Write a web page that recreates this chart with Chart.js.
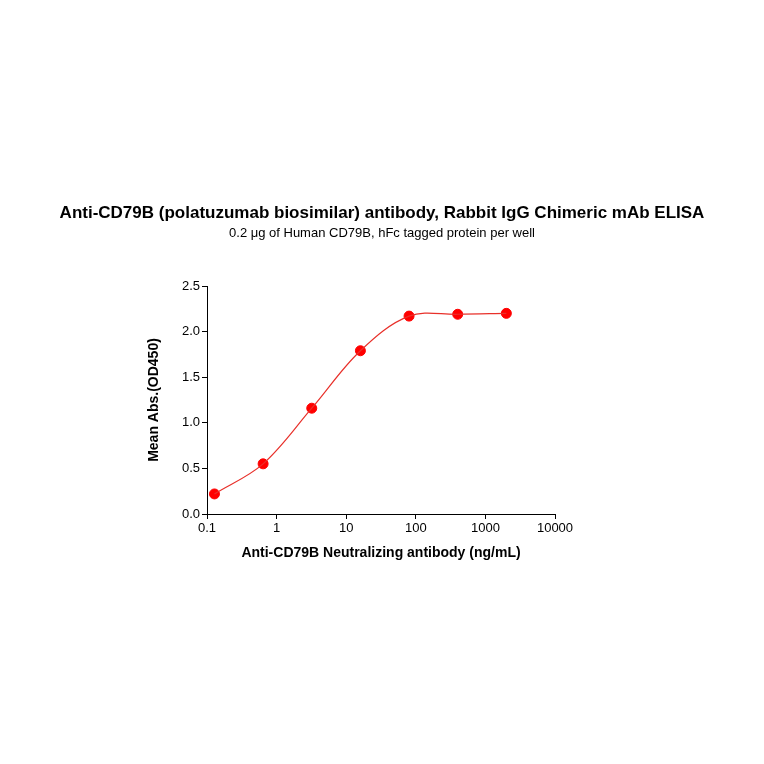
<!DOCTYPE html>
<html><head><script src="https://cdn.jsdelivr.net/npm/chart.js@4"></script>
<style>body{margin:0;background:#fff}#w{width:764px;height:764px}</style></head>
<body><div id="w"><canvas id="c"></canvas></div>
<script>
const concentrations=[0.128,0.64,3.2,16,80,400,2000];
const meanAbs=[0.22,0.55,1.16,1.79,2.17,2.19,2.20];
const xTicks=[0.1,1,10,100,1000,10000];
const yTicks=[0,0.5,1.0,1.5,2.0,2.5];
const pts=concentrations.map((x,i)=>({x,y:meanAbs[i]}));
const titles={id:'titles',afterDraw(ch){const c=ch.ctx;c.save();c.fillStyle='#000';c.textAlign='center';
c.font='bold 17px Arial, Liberation Sans';c.fillText('Anti-CD79B (polatuzumab biosimilar) antibody, Rabbit IgG Chimeric mAb ELISA',382,218);
c.font='13px Arial, Liberation Sans';c.fillText('0.2 \u03bcg of Human CD79B, hFc tagged protein per well',382,237);c.restore();}};
new Chart(document.getElementById('c'),{type:'scatter',
data:{datasets:[
{type:'line',data:pts,borderColor:'#e8302a',borderWidth:1.2,pointRadius:0,tension:0.35,fill:false},
{data:pts,backgroundColor:'#ff0000',borderColor:'#ff0000',pointRadius:5}]},
options:{responsive:true,maintainAspectRatio:false,animation:false,
layout:{padding:{left:146,right:209,top:286,bottom:202}},
plugins:{legend:{display:false},tooltip:{enabled:false}},
scales:{
x:{type:'logarithmic',min:0.1,max:10000,afterBuildTicks:s=>{s.ticks=xTicks.map(v=>({value:v}))},
afterFit:s=>{s.height=48},
ticks:{color:'#000',font:{size:13,family:'Arial'},padding:2,callback:v=>String(v)},
grid:{drawOnChartArea:false,color:'#000',tickLength:5},border:{color:'#000'},
title:{display:true,text:'Anti-CD79B Neutralizing antibody (ng/mL)',color:'#000',font:{size:14,weight:'bold',family:'Arial'},padding:{top:6,bottom:0}}},
y:{min:0,max:2.5,afterBuildTicks:s=>{s.ticks=yTicks.map(v=>({value:v}))},afterFit:s=>{s.width=61},
ticks:{color:'#000',font:{size:13,family:'Arial'},padding:2,callback:v=>v.toFixed(1)},
grid:{drawOnChartArea:false,color:'#000',tickLength:5},border:{color:'#000'},
title:{display:true,text:'Mean Abs.(OD450)',color:'#000',font:{size:14,weight:'bold',family:'Arial'},padding:0}}}},
plugins:[titles]});
</script></body></html>
